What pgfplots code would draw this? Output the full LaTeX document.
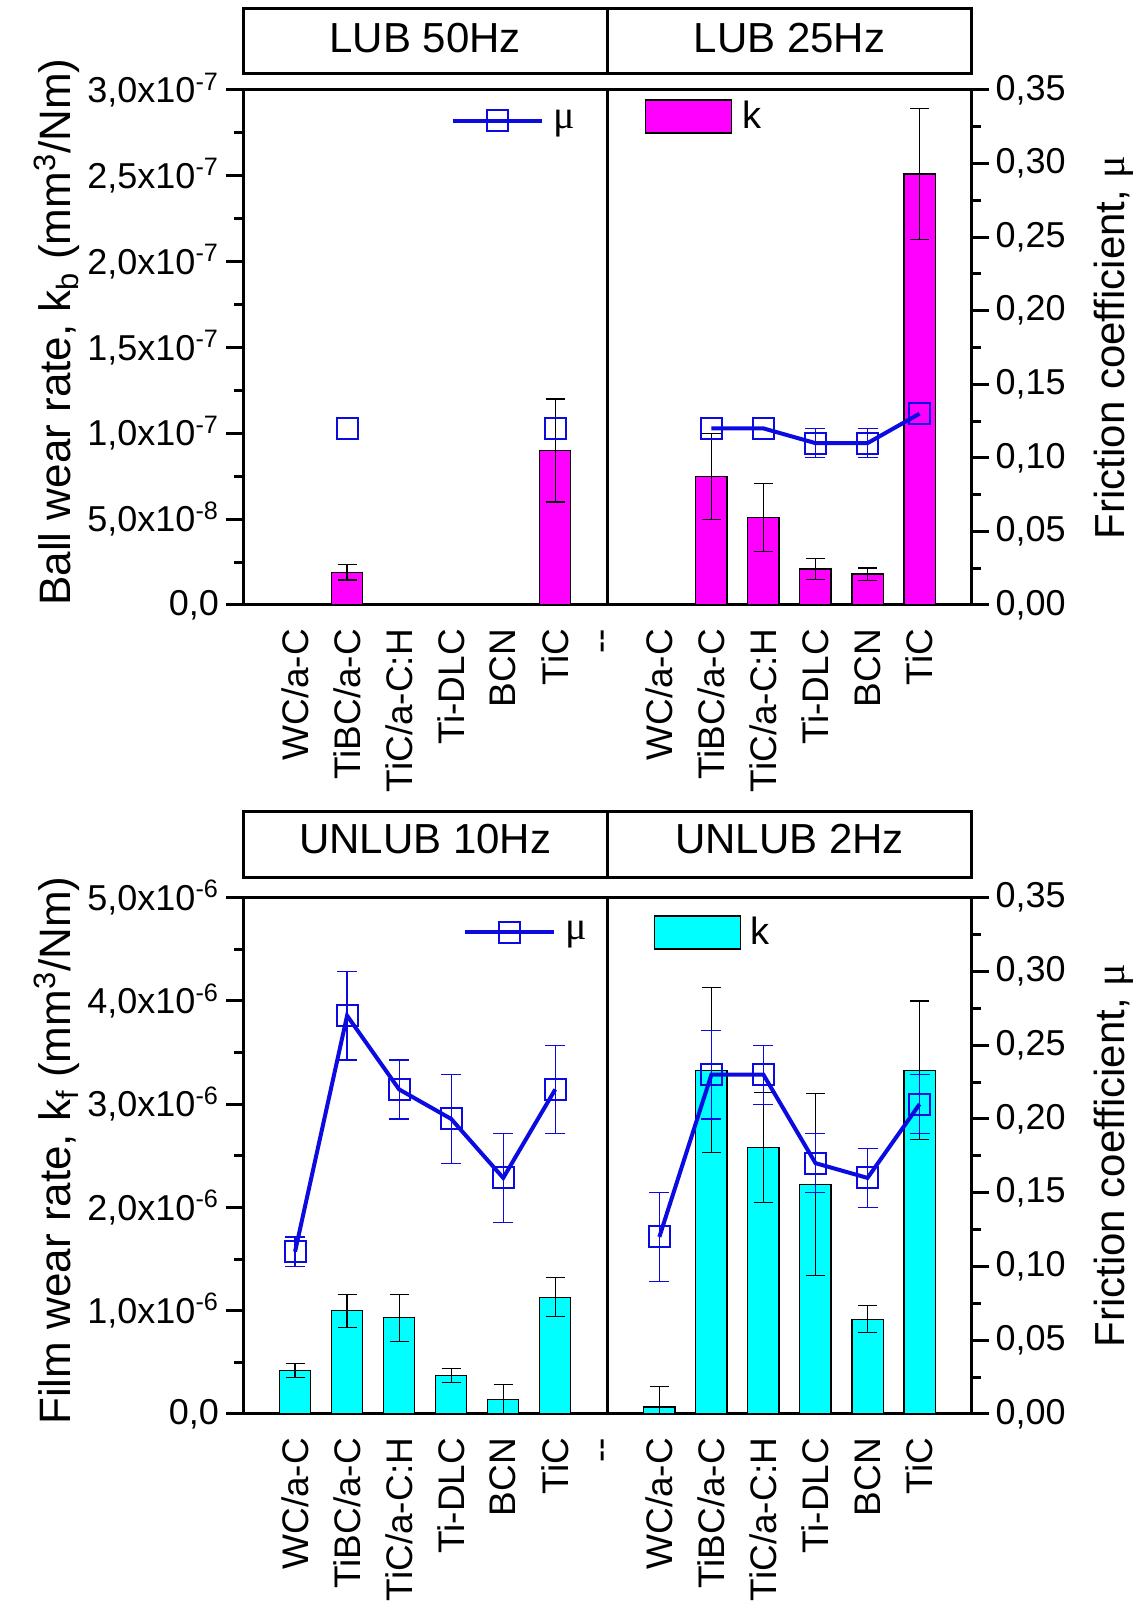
\documentclass[border=0pt]{standalone}
\usepackage{fontspec}
\setmainfont{Liberation Sans}
\newfontfamily\mufont{Liberation Serif}
\usepackage{pgfplots}
\pgfplotsset{compat=1.18}
\definecolor{mag}{RGB}{255,0,255}
\definecolor{cyn}{RGB}{0,255,255}
\definecolor{mub}{RGB}{10,10,225}
\pgfplotsset{
  base/.style={
    scale only axis, width=364.3pt,
    xmin=-1, xmax=13,
    scaled y ticks=false,
    tick align=outside,
    major tick length=8.5pt, minor tick length=4.5pt,
    axis line style={-, line width=1.5pt},
    ytick style={line width=1.5pt, black},
    tick label style={font=\fontsize{18}{20}\selectfont},
  },
  kax/.style={base,
    ytick pos=left, xtick pos=bottom,
    xtick={0,...,12},
    xticklabels={WC/a-C,TiBC/a-C,TiC/a-C:H,Ti-DLC,BCN,TiC,-{}-,WC/a-C,TiBC/a-C,TiC/a-C:H,Ti-DLC,BCN,TiC},
    xtick style={draw=none},
    xticklabel style={rotate=90, anchor=east, font=\fontsize{18.5}{20}\selectfont},
    minor y tick num=1,
    ybar, bar width=0.6,
    legend style={draw=none, fill=none, inner sep=0pt, outer sep=0pt, anchor=west,
      nodes={inner sep=0pt}, font=\fontsize{19}{20}\selectfont,
      /tikz/every odd column/.style={column sep=5pt}},
  },
  muax/.style={base,
    axis y line*=right, axis x line=none,
    ymin=0, ymax=0.35,
    ytick={0,0.05,0.1,0.15,0.2,0.25,0.3,0.35},
    minor y tick num=1,
    yticklabel style={/pgf/number format/.cd, fixed, fixed zerofill, precision=2, use comma},
    /pgf/number format/assume math mode=true,
    ylabel={Friction coefficient, {\mufont μ}},
    every axis y label/.style={at={(axis description cs:1.158,0.5)}, rotate=90, anchor=north,
      font=\fontsize{21}{24}\selectfont},
    legend image code/.code={\draw[mark repeat=2,mark phase=2,##1] plot coordinates {(0pt,0pt) (22.25pt,0pt) (44.5pt,0pt)};},
    legend style={draw=none, fill=none, inner sep=0pt, outer sep=0pt, anchor=west,
      nodes={inner sep=0pt}, font=\fontsize{20}{20}\selectfont,
      /tikz/every odd column/.style={column sep=5pt}},
  },
  kbar/.style={draw=black, line width=0.6pt,
    error bars/y dir=both, error bars/y explicit,
    error bars/error bar style={line width=0.6pt, black},
    error bars/error mark options={rotate=90, mark size=4.75pt, line width=0.6pt, black},
    legend image code/.code={\draw[##1, draw=black, line width=0.6pt] (0pt,-8.25pt) rectangle (43pt,8.25pt);}},
  mubars/.style={draw=none, forget plot,
    error bars/y dir=both, error bars/y explicit,
    error bars/error bar style={line width=0.6pt, draw=mub},
    error bars/error mark options={rotate=90, mark size=5pt, line width=0.6pt, draw=mub}},
  muline/.style={mub, line width=2pt, mark=square, mark size=5.25pt,
    mark options={fill=white, draw=mub, line width=1pt, solid}},
}
\begin{document}
\begin{tikzpicture}
\useasboundingbox (0,0) rectangle (571pt,804.5pt);
% ---------------- top panel ----------------
\begin{axis}[kax, at={(121.5pt,502pt)}, anchor=south west, height=257.5pt,
  ymin=0, ymax=3e-7,
  ytick={0,5e-8,1e-7,1.5e-7,2e-7,2.5e-7,3e-7},
  yticklabels={{0,0},{5,0x10\textsuperscript{-8}},{1,0x10\textsuperscript{-7}},{1,5x10\textsuperscript{-7}},{2,0x10\textsuperscript{-7}},{2,5x10\textsuperscript{-7}},{3,0x10\textsuperscript{-7}}},
  ylabel={Ball wear rate, k\textsubscript{b} (mm\textsuperscript{3}/Nm)},
  every axis y label/.style={at={(axis description cs:-0.214,0.53)}, rotate=90, anchor=south,
    font=\fontsize{22}{26}\selectfont},
  legend style={at={(0.552,0.9485)}},
]
\addplot[kbar, fill=mag] coordinates {
  (1,1.9e-8) +- (0,0.45e-8)
  (5,9.0e-8) +- (0,3.0e-8)
  (8,7.5e-8) +- (0,2.5e-8)
  (9,5.1e-8) +- (0,2.0e-8)
  (10,2.1e-8) +- (0,0.63e-8)
  (11,1.8e-8) +- (0,0.36e-8)
  (12,2.51e-7) +- (0,3.8e-8)
};
\addlegendentry{k}
\draw[line width=1.5pt] (axis cs:6,0) -- (axis cs:6,3e-7);
\end{axis}
\begin{axis}[muax, at={(121.5pt,502pt)}, anchor=south west, height=257.5pt,
  legend style={at={(0.285,0.9406)}}]
\addplot[mubars] coordinates {(10,0.11) +- (0,0.01) (11,0.11) +- (0,0.01)};
\addplot[muline] coordinates {(8,0.12) (9,0.12) (10,0.11) (11,0.11) (12,0.13)};
\addlegendentry{{\mufont μ}}
\addplot[muline, only marks, forget plot] coordinates {(1,0.12) (5,0.12)};
\end{axis}
% ---------------- bottom panel ----------------
\begin{axis}[kax, at={(121.5pt,97.55pt)}, anchor=south west, height=258.1pt,
  ymin=0, ymax=5e-6,
  ytick={0,1e-6,2e-6,3e-6,4e-6,5e-6},
  yticklabels={{0,0},{1,0x10\textsuperscript{-6}},{2,0x10\textsuperscript{-6}},{3,0x10\textsuperscript{-6}},{4,0x10\textsuperscript{-6}},{5,0x10\textsuperscript{-6}}},
  ylabel={Film wear rate, k\textsubscript{f} (mm\textsuperscript{3}/Nm)},
  every axis y label/.style={at={(axis description cs:-0.214,0.51)}, rotate=90, anchor=south,
    font=\fontsize{22}{26}\selectfont},
  legend style={at={(0.5635,0.9326)}},
]
\addplot[kbar, fill=cyn] coordinates {
  (0,4.2e-7) +- (0,0.65e-7)
  (1,1.0e-6) +- (0,0.16e-6)
  (2,0.93e-6) +- (0,0.23e-6)
  (3,3.7e-7) +- (0,0.66e-7)
  (4,1.37e-7) +- (0,1.5e-7)
  (5,1.13e-6) +- (0,0.19e-6)
  (7,6.7e-8) +- (0,2.0e-7)
  (8,3.33e-6) +- (0,0.8e-6)
  (9,2.58e-6) +- (0,0.53e-6)
  (10,2.22e-6) +- (0,0.88e-6)
  (11,0.917e-6) +- (0,0.13e-6)
  (12,3.33e-6) +- (0,0.67e-6)
};
\addlegendentry{k}
\draw[line width=1.5pt] (axis cs:6,0) -- (axis cs:6,5e-6);
\end{axis}
\begin{axis}[muax, at={(121.5pt,97.55pt)}, anchor=south west, height=258.1pt,
  legend style={at={(0.3014,0.933)}}]
\addplot[mubars] coordinates {
  (0,0.11) +- (0,0.01) (1,0.27) +- (0,0.03) (2,0.22) +- (0,0.02)
  (3,0.20) +- (0,0.03) (4,0.16) +- (0,0.03) (5,0.22) +- (0,0.03)
  (7,0.12) +- (0,0.03) (8,0.23) +- (0,0.03) (9,0.23) +- (0,0.02)
  (10,0.17) +- (0,0.02) (11,0.16) +- (0,0.02) (12,0.21) +- (0,0.02)};
\addplot[muline] coordinates {(0,0.11) (1,0.27) (2,0.22) (3,0.20) (4,0.16) (5,0.22)};
\addlegendentry{{\mufont μ}}
\addplot[muline, forget plot] coordinates {(7,0.12) (8,0.23) (9,0.23) (10,0.17) (11,0.16) (12,0.21)};
\end{axis}
% ---------------- title boxes ----------------
\draw[line width=1.5pt] (121.5pt,767.5pt) rectangle (485.8pt,800.15pt);
\draw[line width=1.5pt] (303.6pt,767.5pt) -- (303.6pt,800.15pt);
\node[font=\fontsize{21}{24}\selectfont] at (212.55pt,785.25pt) {LUB 50Hz};
\node[font=\fontsize{21}{24}\selectfont] at (394.7pt,785.25pt) {LUB 25Hz};
\draw[line width=1.5pt] (121.5pt,365.65pt) rectangle (485.8pt,398.65pt);
\draw[line width=1.5pt] (303.6pt,365.65pt) -- (303.6pt,398.65pt);
\node[font=\fontsize{21}{24}\selectfont] at (212.55pt,385.15pt) {UNLUB 10Hz};
\node[font=\fontsize{21}{24}\selectfont] at (394.7pt,385.15pt) {UNLUB 2Hz};
\end{tikzpicture}
\end{document}
